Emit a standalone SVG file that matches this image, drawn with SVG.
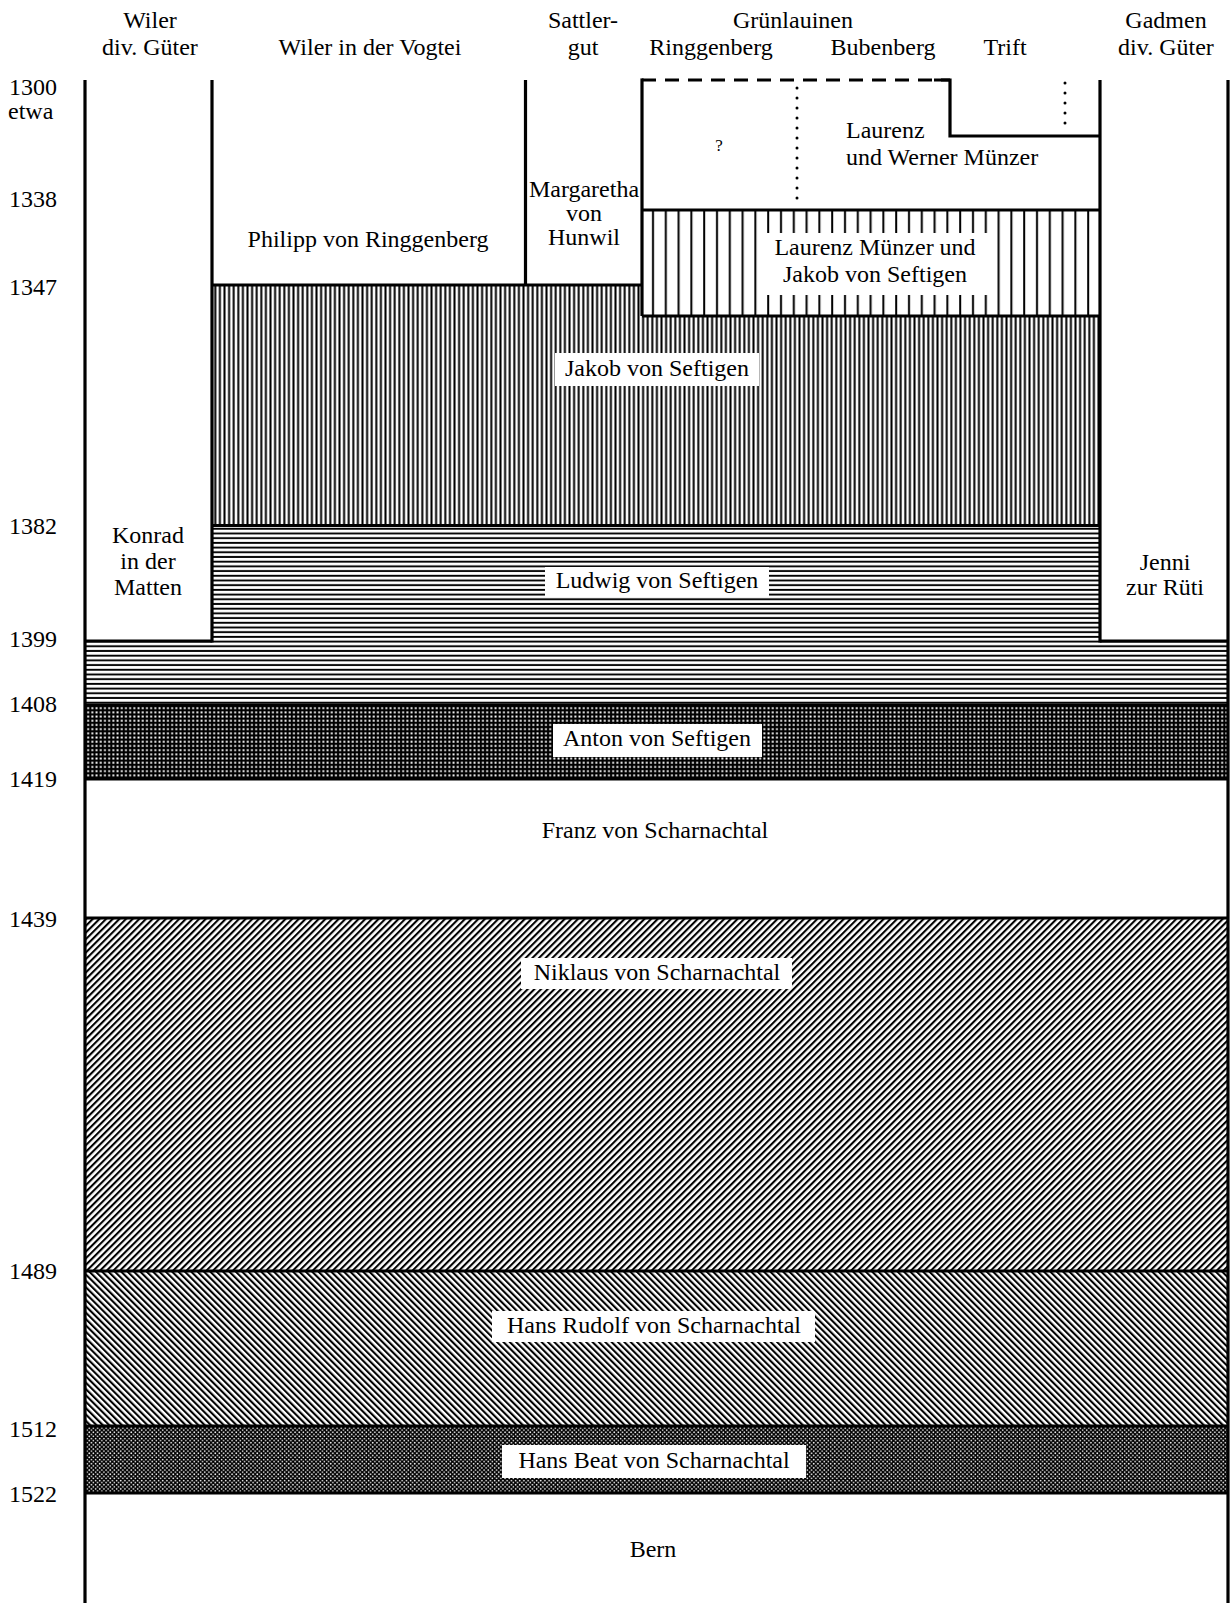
<svg xmlns="http://www.w3.org/2000/svg" width="1232" height="1603" viewBox="0 0 1232 1603">
<style>
text{font-family:"Liberation Serif","Times New Roman",serif;font-size:24px;fill:#000;}
.c{text-anchor:middle;}
.b{stroke:#000;stroke-width:3.2;fill:none;}
.dash{stroke:#000;stroke-width:3.2;fill:none;stroke-dasharray:14 9;}
.dot{stroke:#000;stroke-width:3;fill:none;stroke-dasharray:0 10;stroke-linecap:round;}
.lbl{fill:#fff;}
</style>
<defs>
<pattern id="vdense" patternUnits="userSpaceOnUse" x="213" y="0" width="4.6" height="10"><rect x="1.3" y="0" width="2" height="10" fill="#000"/></pattern>
<pattern id="vsparse" patternUnits="userSpaceOnUse" x="642" y="0" width="12.8" height="10"><rect x="10" y="0" width="2" height="10" fill="#000"/></pattern>
<pattern id="hlines" patternUnits="userSpaceOnUse" x="0" y="526" width="10" height="4.7"><rect x="0" y="1.8" width="10" height="1.9" fill="#000"/></pattern>
<pattern id="grid" patternUnits="userSpaceOnUse" x="86" y="706" width="4.2" height="4.2"><rect width="4.2" height="4.2" fill="#000"/><rect x="1.2" y="1.2" width="1.9" height="1.9" fill="#fff"/></pattern>
<pattern id="diagR" patternUnits="userSpaceOnUse" width="4.7" height="10" patternTransform="rotate(45)"><rect x="0" y="0" width="2.1" height="10" fill="#000"/></pattern>
<pattern id="diagL" patternUnits="userSpaceOnUse" width="4.5" height="10" patternTransform="rotate(-45)"><rect x="0" y="0" width="2.1" height="10" fill="#000"/></pattern>
<pattern id="dots" patternUnits="userSpaceOnUse" x="0" y="1427" width="4.2" height="4.2"><rect width="4.2" height="4.2" fill="#000"/><circle cx="1.05" cy="1.05" r="0.85" fill="#fff"/><circle cx="3.15" cy="3.15" r="0.85" fill="#fff"/></pattern>
</defs>
<rect width="1232" height="1603" fill="#fff"/>

<g id="header">
<text class="c" x="150" y="28">Wiler</text>
<text class="c" x="150" y="55">div. Güter</text>
<text class="c" x="370" y="55">Wiler in der Vogtei</text>
<text class="c" x="583" y="28">Sattler-</text>
<text class="c" x="583" y="55">gut</text>
<text class="c" x="793" y="28">Grünlauinen</text>
<text class="c" x="711" y="55">Ringgenberg</text>
<text class="c" x="883" y="55">Bubenberg</text>
<text class="c" x="1005" y="55">Trift</text>
<text class="c" x="1166" y="28">Gadmen</text>
<text class="c" x="1166" y="55">div. Güter</text>
</g>

<g id="years">
<text x="9" y="95">1300</text>
<text x="8" y="119">etwa</text>
<text x="9" y="207">1338</text>
<text x="9" y="295">1347</text>
<text x="9" y="534">1382</text>
<text x="9" y="647">1399</text>
<text x="9" y="712">1408</text>
<text x="9" y="787">1419</text>
<text x="9" y="927">1439</text>
<text x="9" y="1279">1489</text>
<text x="9" y="1437">1512</text>
<text x="9" y="1502">1522</text>
</g>

<g id="fills">
<rect x="642" y="210" width="458" height="106" fill="url(#vsparse)"/>
<polygon points="212,285 642,285 642,316 1100,316 1100,525.5 212,525.5" fill="url(#vdense)"/>
<polygon points="212,525.5 1100,525.5 1100,641 1228,641 1228,705 85,705 85,641 212,641" fill="url(#hlines)"/>
<rect x="85" y="705" width="1143" height="74" fill="url(#grid)"/>
<rect x="85" y="918" width="1143" height="353" fill="url(#diagR)"/>
<rect x="85" y="1271" width="1143" height="155" fill="url(#diagL)"/>
<rect x="85" y="1426" width="1143" height="67" fill="url(#dots)"/>
</g>

<g id="connectors">
<line class="b" x1="85" y1="80" x2="85" y2="1603"/>
<line class="b" x1="1228" y1="80" x2="1228" y2="1603"/>
<line class="b" x1="212" y1="80" x2="212" y2="642.6"/>
<line class="b" x1="525.5" y1="80" x2="525.5" y2="285"/>
<line class="b" x1="642" y1="78.4" x2="642" y2="316"/>
<line class="b" x1="1100" y1="80" x2="1100" y2="642.6"/>
<line class="dash" x1="642" y1="80" x2="950" y2="80"/>
<path class="b" d="M934,80 H950 V136 H1100"/>
<line class="dot" x1="797" y1="88" x2="797" y2="205"/>
<line class="dot" x1="1065" y1="83" x2="1065" y2="130"/>
<line class="b" x1="642" y1="210" x2="1100" y2="210"/>
<line class="b" x1="212" y1="285" x2="642" y2="285"/>
<line class="b" x1="642" y1="316" x2="1100" y2="316"/>
<line class="b" x1="212" y1="525.5" x2="1100" y2="525.5"/>
<line class="b" x1="85" y1="641" x2="212" y2="641"/>
<line class="b" x1="1100" y1="641" x2="1228" y2="641"/>
<line class="b" x1="85" y1="705" x2="1228" y2="705"/>
<line class="b" x1="85" y1="779" x2="1228" y2="779"/>
<line class="b" x1="85" y1="918" x2="1228" y2="918"/>
<line class="b" x1="85" y1="1271" x2="1228" y2="1271"/>
<line class="b" x1="85" y1="1426" x2="1228" y2="1426"/>
<line class="b" x1="85" y1="1493" x2="1228" y2="1493"/>
</g>

<g id="n-wiler-div">
<text class="c" x="148" y="543">Konrad</text>
<text class="c" x="148" y="569">in der</text>
<text class="c" x="148" y="595">Matten</text>
</g>
<g id="n-philipp">
<text class="c" x="368" y="247">Philipp von Ringgenberg</text>
</g>
<g id="n-margaretha">
<text class="c" x="584" y="197">Margaretha</text>
<text class="c" x="584" y="221">von</text>
<text class="c" x="584" y="245">Hunwil</text>
</g>
<g id="n-unknown">
<text class="c" x="719" y="151" style="font-size:17px">?</text>
</g>
<g id="n-laurenz-werner">
<text x="846" y="138">Laurenz</text>
<text x="846" y="165">und Werner Münzer</text>
</g>
<g id="n-laurenz-jakob">
<rect class="lbl" x="760" y="233" width="228" height="62"/>
<text class="c" x="875" y="255">Laurenz Münzer und</text>
<text class="c" x="875" y="282">Jakob von Seftigen</text>
</g>
<g id="n-jakob">
<rect class="lbl" x="555" y="353" width="204" height="33"/>
<text class="c" x="657" y="376">Jakob von Seftigen</text>
</g>
<g id="n-ludwig">
<rect class="lbl" x="545" y="567" width="224" height="30"/>
<text class="c" x="657" y="588">Ludwig von Seftigen</text>
</g>
<g id="n-jenni">
<text class="c" x="1165" y="570">Jenni</text>
<text class="c" x="1165" y="595">zur Rüti</text>
</g>
<g id="n-anton">
<rect class="lbl" x="553" y="724" width="209" height="33"/>
<text class="c" x="657" y="746">Anton von Seftigen</text>
</g>
<g id="n-franz">
<text class="c" x="655" y="838">Franz von Scharnachtal</text>
</g>
<g id="n-niklaus">
<rect class="lbl" x="521" y="958" width="271" height="31"/>
<text class="c" x="657" y="980">Niklaus von Scharnachtal</text>
</g>
<g id="n-hansrudolf">
<rect class="lbl" x="492" y="1311" width="323" height="31"/>
<text class="c" x="654" y="1333">Hans Rudolf von Scharnachtal</text>
</g>
<g id="n-hansbeat">
<rect class="lbl" x="502" y="1445" width="304" height="33"/>
<text class="c" x="654" y="1468">Hans Beat von Scharnachtal</text>
</g>
<g id="n-bern">
<text class="c" x="653" y="1557">Bern</text>
</g>
</svg>
